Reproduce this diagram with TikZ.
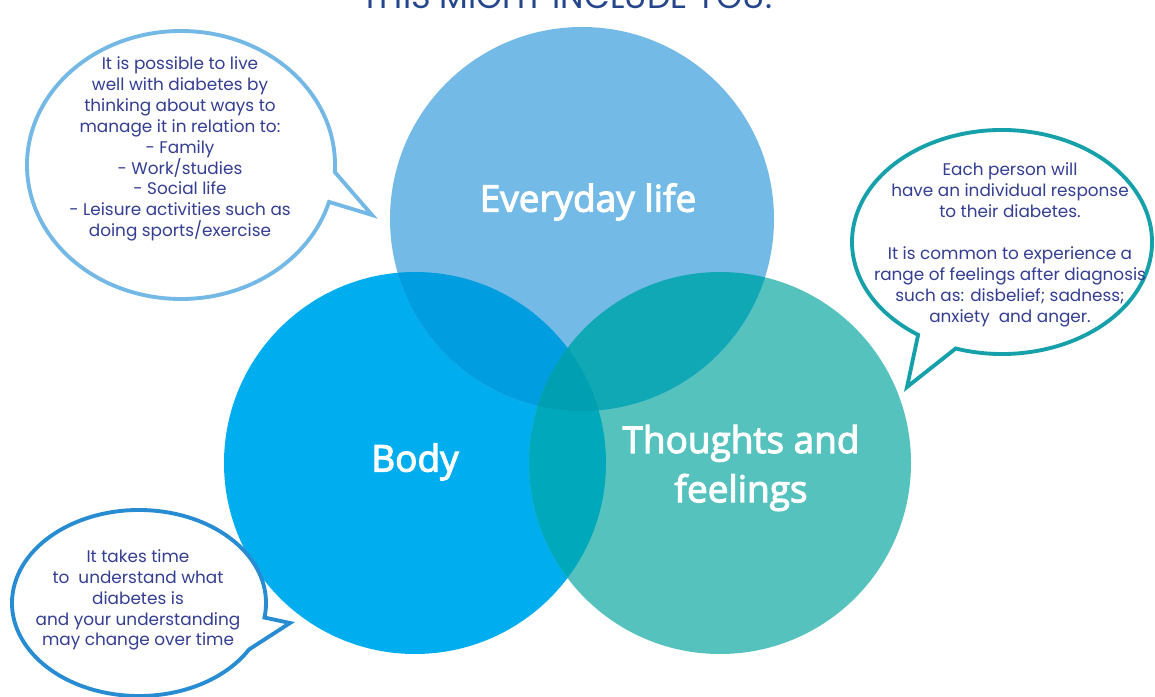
\documentclass[tikz,border=0pt]{standalone}
\usepackage{fontspec}
\setmainfont{Poppins}
\newfontfamily\labelfont{Open Sans}[FakeBold=3]
\definecolor{titleColor}{RGB}{38,70,140}
\definecolor{textColor}{RGB}{52,62,146}
\definecolor{lifeColor}{RGB}{116,186,230}
\definecolor{bodyColor}{RGB}{0,174,239}
\definecolor{mindColor}{RGB}{85,194,190}
\definecolor{lifeBodyColor}{RGB}{0,157,224}
\definecolor{lifeMindColor}{RGB}{16,168,180}
\definecolor{bodyMindColor}{RGB}{0,168,188}
\definecolor{allColor}{RGB}{0,160,178}
\definecolor{lifeLine}{RGB}{116,185,230}
\definecolor{mindLine}{RGB}{22,160,170}
\definecolor{bodyLine}{RGB}{40,140,210}

\begin{document}
\begin{tikzpicture}[x=0.02cm,y=0.02cm]
    \tikzstyle{area} = [white,font=\labelfont\fontsize{21}{28}\selectfont,align=center]
    \tikzstyle{note} = [textColor,font=\fontsize{9.6}{11.9}\selectfont,align=center,inner sep=0pt]
    \tikzstyle{bubble} = [line width=2.2pt,fill=white,line join=miter]

    \useasboundingbox (0,0) rectangle (1155,696);
    \clip (0,0) rectangle (1155,696);

    \coordinate (life) at (582,477);
    \coordinate (body) at (415,233);
    \coordinate (mind) at (720,233);

    \node [titleColor,font=\fontsize{19}{20}\selectfont,anchor=base] (title) at (567,687) {THIS MIGHT INCLUDE YOU:};

    % circles
    \fill [bodyColor] (body) circle[radius=191];
    \fill [mindColor] (mind) circle[radius=191];
    \fill [lifeColor] (life) circle[radius=192];
    \begin{scope}
      \clip (life) circle[radius=192];
      \fill [lifeBodyColor] (body) circle[radius=191];
      \fill [lifeMindColor] (mind) circle[radius=191];
    \end{scope}
    \begin{scope}
      \clip (body) circle[radius=191];
      \fill [bodyMindColor] (mind) circle[radius=191];
    \end{scope}
    \begin{scope}
      \clip (life) circle[radius=192];
      \clip (body) circle[radius=191];
      \fill [allColor] (mind) circle[radius=191];
    \end{scope}

    \node [area] (lifelabel) at (588,494) {Everyday life};
    \node [area] (bodylabel) at (415,234) {Body};
    \node [area] (mindlabel) at (741,228) {Thoughts and\\feelings};

    % speech bubbles
    \coordinate (bubA) at (181,531);
    \coordinate (tipA) at (372,481);
    \draw [bubble,draw=lifeLine] (bubA) ++(-3:154 and 134)
      arc[start angle=-3,end angle=344,x radius=154,y radius=134] -- (tipA) -- cycle;

    \coordinate (bubB) at (1002,454);
    \coordinate (tipB) at (907,309);
    \draw [bubble,draw=mindLine] (bubB) ++(252:150 and 112)
      arc[start angle=252,end angle=596,x radius=150,y radius=112] -- (tipB) -- cycle;

    \coordinate (bubC) at (139,93);
    \coordinate (tipC) at (290,73);
    \draw [bubble,draw=bodyLine] (bubC) ++(-9:127 and 93)
      arc[start angle=-9,end angle=330,x radius=127,y radius=93] -- (tipC) -- cycle;

    \node [note] (noteA) at (180,547) {It is possible to live\\well with diabetes by\\thinking about ways to\\manage it in relation to:\\- Family\\- Work/studies\\- Social life\\- Leisure activities such as\\doing sports/exercise};
    \node [note] (noteB) at (1010,451) {Each person will\\have an individual response\\to their diabetes.\\[\baselineskip]It is common to experience a\\range of feelings after diagnosis\\such as: disbelief; sadness;\\anxiety \ and anger.};
    \node [note] (noteC) at (138,96) {It takes time\\to \ understand what\\diabetes is\\and your understanding\\may change over time};
\end{tikzpicture}
\end{document}
